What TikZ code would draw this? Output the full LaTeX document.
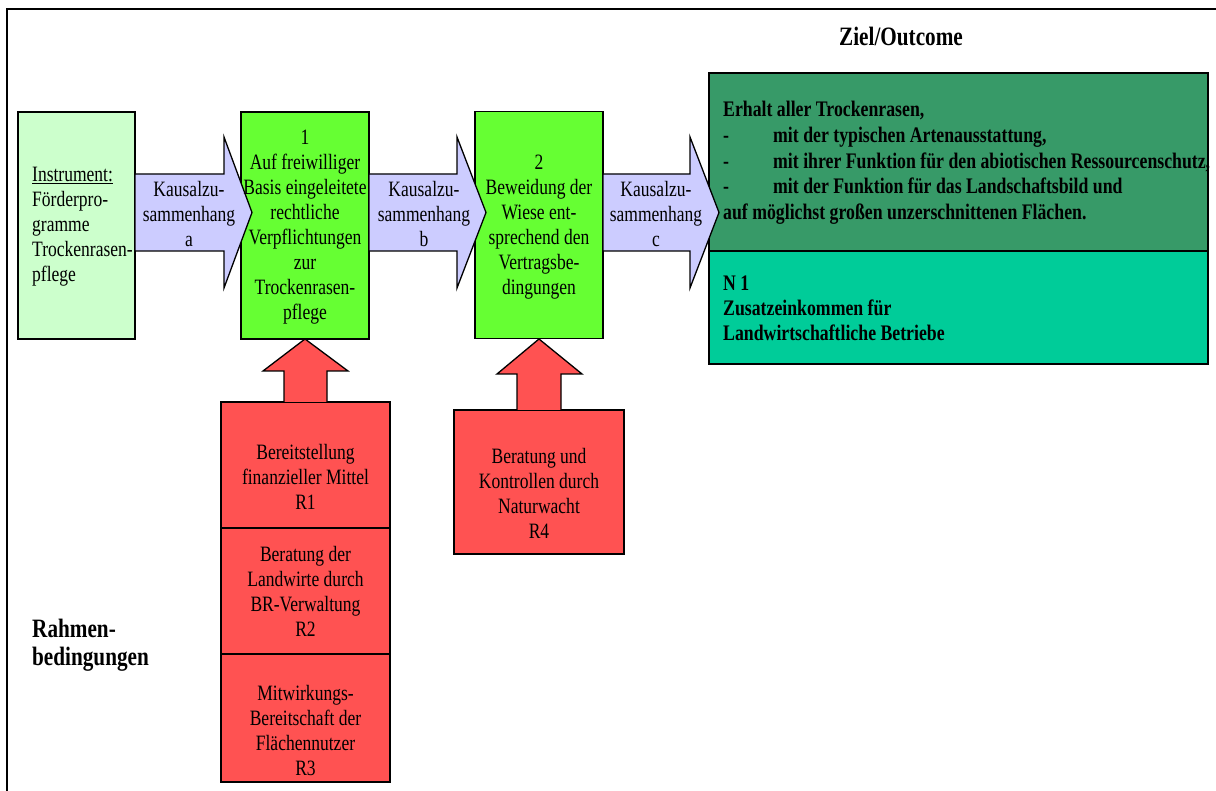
\documentclass[tikz,border=0pt]{standalone}
\usepackage{fontspec}
\setmainfont{Liberation Serif}[FakeStretch=0.8]
\usetikzlibrary{calc}
\definecolor{lgreen}{HTML}{CCFFCC}
\definecolor{bgreen}{HTML}{66FF33}
\definecolor{lav}{HTML}{CCCCFF}
\definecolor{dgreen}{HTML}{379A68}
\definecolor{teal}{HTML}{00CC99}
\definecolor{rred}{HTML}{FF5252}
\begin{document}
\begin{tikzpicture}[x=1pt,y=-1pt,
  box/.style={draw=black, line width=1.3pt, inner sep=0pt},
  blockarrow/.style={draw=black, line width=1.3pt, line join=miter, fill=lav},
  redarrow/.style={draw=black, line width=1.3pt, line join=miter, fill=rred},
  txt/.style={font=\fontsize{21.9}{25}\selectfont, align=center, inner sep=0pt},
  ltxt/.style={font=\fontsize{21.9}{25}\selectfont, align=left, inner sep=0pt, anchor=west},
  btxt/.style={font=\bfseries\fontsize{22.2}{25.75}\selectfont, align=left, inner sep=0pt, anchor=west},
  head/.style={font=\bfseries\fontsize{26.5}{28}\selectfont, align=left, inner sep=0pt}]
\useasboundingbox (0,0) rectangle (1216,791);
\fill[white] (0,0) rectangle (1216,791);
\draw[line width=1.3pt] (7,791) -- (7,9) -- (1216,9);

% boxes
\node[box, fill=lgreen, minimum width=117pt, minimum height=227pt] (inst) at (76.5,225.5) {};
\node[box, fill=bgreen, minimum width=128pt, minimum height=227pt] (b1) at (305,225.5) {};
\node[box, fill=bgreen, minimum width=128pt, minimum height=227pt] (b2) at (539,225) {};
\node[box, fill=dgreen, minimum width=499pt, minimum height=178pt] (goal) at (958.5,162) {};
\node[box, fill=teal, minimum width=499pt, minimum height=113pt] (n1) at (958.5,307.5) {};
\node[box, fill=rred, minimum width=169pt, minimum height=126pt] (r1) at (305.5,465) {};
\node[box, fill=rred, minimum width=169pt, minimum height=126pt] (r2) at (305.5,591) {};
\node[box, fill=rred, minimum width=169pt, minimum height=128pt] (r3) at (305.5,718) {};
\node[box, fill=rred, minimum width=170pt, minimum height=144pt] (r4) at (539,482) {};

% horizontal block arrows
\draw[blockarrow] (135,174) -- (224,174) -- (224,137) -- (252,212.5) -- (224,288) -- (224,251) -- (135,251) -- cycle;
\draw[blockarrow] (369,174) -- (457,174) -- (457,137) -- (486,212.5) -- (457,288) -- (457,251) -- (369,251) -- cycle;
\draw[blockarrow] (603,174) -- (690,174) -- (690,137) -- (719,212.5) -- (690,288) -- (690,251) -- (603,251) -- cycle;

% vertical red arrows
\draw[redarrow] (284,402) -- (284,371) -- (263,371) -- (305,339) -- (348,371) -- (327,371) -- (327,402);
\draw[redarrow] (517,410) -- (517,374) -- (497,374) -- (539,339) -- (582,374) -- (561,374) -- (561,410);

% texts
\node[head, anchor=center] (ziel) at (901,36) {Ziel/Outcome};
\node[head, anchor=west] (rahmen) at (32,645) {Rahmen-\\bedingungen};

\node[ltxt] (tinst) at (32,227) {\underline{Instrument:}\\Förderpro-\\gramme\\Trockenrasen-\\pflege};
\node[txt] (ta) at (189,214) {Kausalzu-\\sammenhang\\a};
\node[txt] (tb) at (424,214) {Kausalzu-\\sammenhang\\b};
\node[txt] (tc) at (656,214) {Kausalzu-\\sammenhang\\c};
\node[txt] (t1) at (305,227.5) {1\\Auf freiwilliger\\Basis eingeleitete\\rechtliche\\Verpflichtungen\\zur\\Trockenrasen-\\pflege};
\node[txt] (t2) at (539,227.5) {2\\Beweidung der\\Wiese ent-\\sprechend den\\Vertragsbe-\\dingungen};

\node[btxt] (tgoal) at (723,163) {Erhalt aller Trockenrasen,\\
\makebox[50pt][l]{-}mit der typischen Artenausstattung,\\
\makebox[50pt][l]{-}mit ihrer Funktion für den abiotischen Ressourcenschutz,\\
\makebox[50pt][l]{-}mit der Funktion für das Landschaftsbild und\\
auf möglichst großen unzerschnittenen Flächen.};
\node[btxt, font=\bfseries\fontsize{22.2}{25}\selectfont] (tn1) at (723,308) {N 1\\Zusatzeinkommen für\\Landwirtschaftliche Betriebe};

\node[txt] (tr1) at (305.5,476.5) {Bereitstellung\\finanzieller Mittel\\R1};
\node[txt] (tr2) at (305.5,591.5) {Beratung der\\Landwirte durch\\BR-Verwaltung\\R2};
\node[txt] (tr3) at (305.5,730.5) {Mitwirkungs-\\Bereitschaft der\\Flächennutzer\\R3};
\node[txt] (tr4) at (539,493) {Beratung und\\Kontrollen durch\\Naturwacht\\R4};
\end{tikzpicture}
\end{document}
